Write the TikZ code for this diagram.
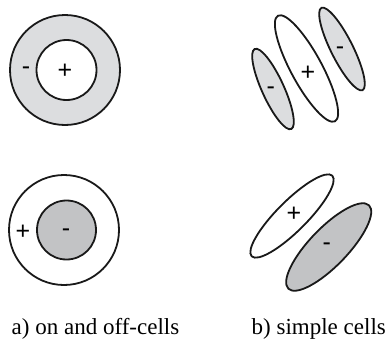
\documentclass[tikz,border=0pt]{standalone}
\usepackage{fontspec}
\setmainfont{Liberation Serif}
\newfontfamily\signfont{Liberation Sans}
\definecolor{lightcell}{HTML}{DCDDDF}
\definecolor{darkcell}{HTML}{C2C3C5}
\tikzset{
  cellline/.style={draw=black!90, line width=1.8pt},
  plussign/.style={font=\signfont\fontsize{25}{25}\selectfont, inner sep=0pt, anchor=base, yshift=-8.8pt},
  minussign/.style={font=\signfont\fontsize{25}{25}\selectfont, inner sep=0pt, anchor=base, yshift=-6.8pt},
  captiontext/.style={font=\fontsize{23}{23}\selectfont, inner sep=0pt, anchor=base west}
}
\begin{document}
\begin{tikzpicture}[x=1pt,y=-1pt]
\useasboundingbox (0,0) rectangle (389,343);
% a) on-cell
\draw[cellline, fill=lightcell] (65,70) circle[radius=55pt];
\draw[cellline, fill=white] (66.5,70) circle[radius=30pt];
\node[minussign] (a1m) at (26,68) {-};
\node[plussign] (a1p) at (65,70) {+};
% a) off-cell
\draw[cellline, fill=white] (64,230) circle[radius=55pt];
\draw[cellline, fill=darkcell] (66.5,230) circle[radius=29.5pt];
\node[plussign] (a2p) at (23,231) {+};
\node[minussign] (a2m) at (66,230) {-};
% b) simple cell, three lobes
\draw[cellline, fill=lightcell, shift={(273,89)}, rotate=-65.5] (0,0) ellipse[x radius=44pt, y radius=11pt];
\draw[cellline, fill=white, shift={(306.5,68.5)}, rotate=-61.6] (0,0) ellipse[x radius=60pt, y radius=15.5pt];
\draw[cellline, fill=lightcell, shift={(342,49)}, rotate=-63.4] (0,0) ellipse[x radius=46pt, y radius=11pt];
\node[minussign] (b1m) at (270.7,87.3) {-};
\node[plussign] (b1p) at (308,72) {+};
\node[minussign] (b1n) at (340,47.3) {-};
% b) simple cell, two lobes
\draw[cellline, fill=white, shift={(292,216)}, rotate=45] (0,0) ellipse[x radius=57pt, y radius=15pt];
\draw[cellline, fill=darkcell, shift={(328.7,247)}, rotate=46] (0,0) ellipse[x radius=58pt, y radius=19pt];
\node[plussign] (b2p) at (294,212.7) {+};
\node[minussign] (b2m) at (326.7,243.3) {-};
% captions
\node[captiontext] (capa) at (11.5,334) {a) on and off-cells};
\node[captiontext] (capb) at (251.5,334) {b) simple cells};
\end{tikzpicture}
\end{document}
